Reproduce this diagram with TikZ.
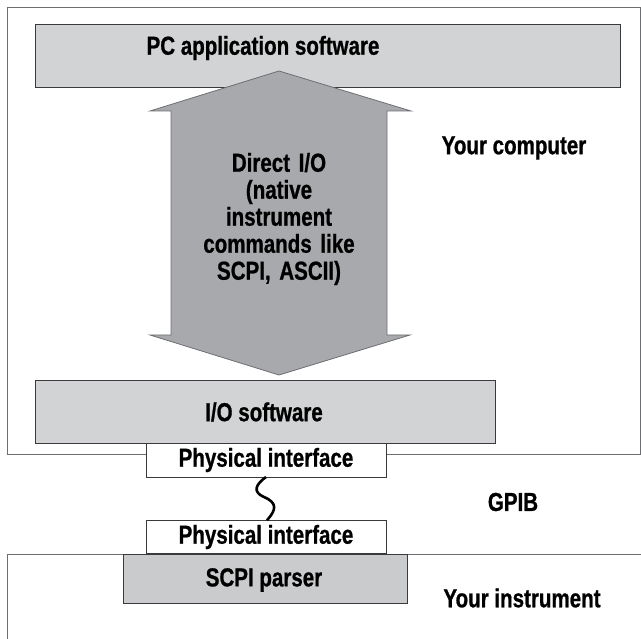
\documentclass[tikz,border=0pt]{standalone}
\usepackage{fontspec}
\setmainfont{Liberation Sans}[FakeStretch=0.79, FakeBold=0.8]
\usetikzlibrary{calc}
\definecolor{boxfill}{HTML}{D1D3D4}
\definecolor{arrowfill}{HTML}{A7A9AC}
\definecolor{scpifill}{HTML}{C9CBCD}
\definecolor{frameline}{HTML}{6D6E71}
\definecolor{boxline}{HTML}{3A3A3C}
\tikzset{
  graybox/.style={draw=boxline, line width=0.9pt, fill=boxfill, inner sep=0pt, outer sep=0pt},
  whitebox/.style={draw=boxline, line width=0.9pt, fill=white, inner sep=0pt, outer sep=0pt},
  label/.style={font=\fontsize{26}{27}\selectfont\bfseries, text=black, inner sep=0pt, align=center},
  frame/.style={draw=frameline, line width=0.8pt}
}
\begin{document}
\begin{tikzpicture}[x=1pt,y=-1pt]
\useasboundingbox (0,0) rectangle (641,639);
% computer frame
\draw[frame] (7.5,7.5) rectangle (640,454);
% instrument frame
\draw[frame] (641,554) -- (7.5,554) -- (7.5,640);
% PC application box
\node[graybox, minimum width=585pt, minimum height=63pt] (pc) at (328,55.5) {};
\node[label] (pctext) at (263,48) {PC application software};
% double arrow
\draw[draw=frameline, line width=0.8pt, fill=arrowfill]
  (279,71) -- (411,111) -- (387,111) -- (387,335) -- (410,335) -- (279,375)
  -- (150,335) -- (171,335) -- (171,111) -- (150,111) -- cycle;
\node[label, text width=180pt] (direct) at (279,219)
  {Direct I/O\\(native\\instrument\\commands like\\SCPI, ASCII)};
% I/O software box
\node[graybox, minimum width=460pt, minimum height=63pt] (io) at (265,411.5) {};
\node[label] (iotext) at (264,412) {I/O software};
% physical interfaces
\node[whitebox, minimum width=240pt, minimum height=34pt, label] (phys1) at (266,460) {Physical interface};
\node[whitebox, minimum width=240pt, minimum height=33.5pt, label] (phys2) at (266,537) {Physical interface};
% SCPI parser box
\node[graybox, fill=scpifill, minimum width=284pt, minimum height=49pt] (scpi) at (265,578.5) {};
\node[label] (scpitext) at (264,580) {SCPI parser};
% GPIB cable
\draw[line width=2.6pt, black]
  (phys1.south) .. controls +(-10,7) and +(-12,-5) .. ($(phys1.south)+(-2,20)$)
  .. controls +(14,6) and +(9,-10) .. ($(phys2.north)+(1,0)$);
% side labels
\node[label] (comp) at (514,148) {Your computer};
\node[label] (gpib) at (513,502) {GPIB};
\node[label] (instr) at (522,598) {Your instrument};
\end{tikzpicture}
\end{document}
